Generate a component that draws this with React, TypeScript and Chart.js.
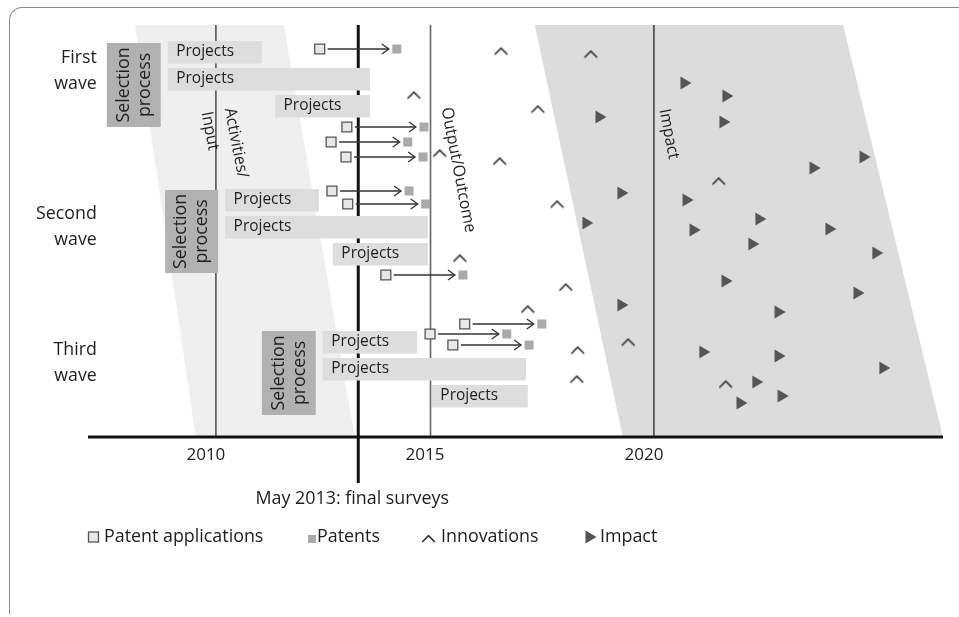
import { useEffect, useRef } from 'react';
import { Chart, registerables } from 'chart.js';

Chart.register(...registerables);

const FONT = "'Open Sans', 'Noto Sans', sans-serif";

// ---- axis ----
const xMin = 2007.08;
const xMax = 2026.6;
const rowMax = 41.2;
const tickYears = [2010, 2015, 2020];
const phaseLineYears = [2010, 2014.9, 2020];
const surveyYear = 2013.25;
const surveyLabel = 'May 2013: final surveys';

// ---- shaded phase bands (parallelograms) ----
const bandTopStart = [2008.15, 2017.28];
const bandBottomStart = [2009.54, 2019.29];
const bandTopEnd = [2011.55, 2024.32];
const bandBottomEnd = [2013.17, 2026.6];

// ---- phase labels ----
const phaseLabels = ['Input', 'Activities/', 'Output/Outcome', 'Impact'];
const phaseLabelYears = [2009.86, 2010.46, 2015.53, 2020.34];
const phaseLabelRows = [30.6, 29.4, 26.7, 30.3];

// ---- waves ----
const waveLines = [['First', 'wave'], ['Second', 'wave'], ['Third', 'wave']];
const waveRows = [36.6, 21.05, 7.45];
const waveLabelYear = 2007.28;

const selectionLines = ['Selection', 'process'];
const selectionStart = [2007.51, 2008.84, 2011.05];
const selectionEnd = [2008.74, 2010.05, 2012.28];
const selectionTop = [39.4, 24.7, 10.6];
const selectionBottom = [31.0, 16.4, 2.2];

// ---- projects ----
const projectLabel = 'Projects';
const projectStart = [2008.9, 2008.9, 2011.35, 2010.21, 2010.21, 2012.67, 2012.44, 2012.44, 2014.93];
const projectEnd = [2011.05, 2013.52, 2013.52, 2012.35, 2014.84, 2014.84, 2014.59, 2017.08, 2017.12];
const projectRow = [38.5, 35.8, 33.1, 23.7, 21.0, 18.3, 9.5, 6.8, 4.1];

// ---- patent applications -> patents ----
const appX = [2012.37, 2012.99, 2012.63, 2012.97, 2012.65, 2013.01, 2013.88, 2014.89, 2015.68, 2015.41];
const appY = [38.8, 31.0, 29.5, 28.0, 24.6, 23.3, 16.2, 10.3, 11.3, 9.2];
const patentX = [2014.13, 2014.75, 2014.38, 2014.73, 2014.41, 2014.79, 2015.64, 2016.64, 2017.44, 2017.15];
const patentY = [38.8, 31.0, 29.5, 28.0, 24.6, 23.3, 16.2, 10.3, 11.3, 9.2];

// ---- innovations ----
const innovX = [2016.51, 2018.56, 2014.52, 2017.35, 2015.11, 2016.48, 2021.48, 2017.79, 2015.57, 2017.99, 2017.12, 2019.41, 2018.26, 2018.24, 2021.64];
const innovY = [38.6, 38.3, 34.2, 32.8, 28.4, 27.6, 25.6, 23.3, 17.9, 15.0, 12.8, 9.5, 8.7, 5.8, 5.3];

// ---- impact ----
const impactX = [2020.73, 2021.69, 2018.79, 2021.62, 2024.82, 2023.68, 2019.29, 2020.78, 2022.44, 2018.49, 2024.04, 2020.94, 2022.28, 2025.11, 2021.67, 2024.68, 2019.29, 2022.88, 2021.16, 2022.88, 2025.27, 2022.37, 2022.95, 2022.01];
const impactY = [35.4, 34.1, 32.0, 31.5, 28.0, 26.9, 24.4, 23.7, 21.8, 21.4, 20.8, 20.7, 19.3, 18.4, 15.6, 14.4, 13.2, 12.5, 8.5, 8.1, 6.9, 5.5, 4.1, 3.4];

const legendLabels = ['Patent applications', 'Patents', 'Innovations', 'Impact'];

function makeCaret(): HTMLCanvasElement {
  const c = document.createElement('canvas');
  c.width = 15;
  c.height = 9;
  const g = c.getContext('2d')!;
  g.strokeStyle = '#333';
  g.lineWidth = 1.7;
  g.beginPath();
  g.moveTo(1.2, 8);
  g.lineTo(7.5, 1.6);
  g.lineTo(13.8, 8);
  g.stroke();
  return c;
}

function makeTriangle(): HTMLCanvasElement {
  const c = document.createElement('canvas');
  c.width = 12;
  c.height = 14;
  const g = c.getContext('2d')!;
  g.fillStyle = '#555555';
  g.beginPath();
  g.moveTo(0.5, 0.5);
  g.lineTo(11.5, 7);
  g.lineTo(0.5, 13.5);
  g.closePath();
  g.fill();
  return c;
}

function drawText(
  ctx: CanvasRenderingContext2D,
  str: string,
  x: number,
  y: number,
  size: number,
  align: CanvasTextAlign = 'left',
  rotate = 0,
  sx = 1,
  color = '#1e1e1e'
) {
  ctx.save();
  ctx.translate(x, y);
  if (rotate) ctx.rotate(rotate);
  if (sx !== 1) ctx.scale(sx, 1);
  ctx.font = `${size}px ${FONT}`;
  ctx.fillStyle = color;
  ctx.textAlign = align;
  ctx.textBaseline = 'middle';
  ctx.fillText(str, 0, 0);
  ctx.restore();
}

export default function App() {
  const ref = useRef<HTMLCanvasElement | null>(null);

  useEffect(() => {
    if (!ref.current) return;
    const caret = makeCaret();
    const tri = makeTriangle();

    const diagram = {
      id: 'diagram',
      beforeDatasetsDraw(chart: any) {
        const { ctx, scales } = chart;
        const X = (v: number) => scales.x.getPixelForValue(v);
        const Y = (v: number) => scales.y.getPixelForValue(v);
        const top = Y(rowMax);
        const bottom = Y(0);
        ctx.save();
        // bands
        const bandColors = ['#efefef', '#dcdcdc'];
        bandTopStart.forEach((_, i) => {
          ctx.fillStyle = bandColors[i];
          ctx.beginPath();
          ctx.moveTo(X(bandTopStart[i]), top);
          ctx.lineTo(X(bandTopEnd[i]), top);
          ctx.lineTo(X(bandBottomEnd[i]), bottom);
          ctx.lineTo(X(bandBottomStart[i]), bottom);
          ctx.closePath();
          ctx.fill();
        });
        // phase lines
        const lineColors = ['#555', '#666', '#444'];
        phaseLineYears.forEach((yr, i) => {
          ctx.strokeStyle = lineColors[i];
          ctx.lineWidth = 1.6;
          ctx.beginPath();
          ctx.moveTo(X(yr), top);
          ctx.lineTo(X(yr), bottom);
          ctx.stroke();
        });
        // survey line
        ctx.strokeStyle = '#111';
        ctx.lineWidth = 3;
        ctx.beginPath();
        ctx.moveTo(X(surveyYear), top);
        ctx.lineTo(X(surveyYear), bottom + 46);
        ctx.stroke();
        // phase labels
        phaseLabels.forEach((t, i) => {
          drawText(ctx, t, X(phaseLabelYears[i]), Y(phaseLabelRows[i]), 16.5, 'center', (79 * Math.PI) / 180, 0.96);
        });
        // project bars
        projectStart.forEach((s, i) => {
          const x0 = X(s);
          const x1 = X(projectEnd[i]);
          const yc = Y(projectRow[i]);
          ctx.fillStyle = '#dddddd';
          ctx.fillRect(x0, yc - 11, x1 - x0, 22.5);
          drawText(ctx, projectLabel, x0 + 8.5, yc - 0.5, 17, 'left', 0, 0.91);
        });
        // selection boxes
        selectionStart.forEach((s, i) => {
          const x0 = X(s);
          const x1 = X(selectionEnd[i]);
          const y0 = Y(selectionTop[i]);
          const y1 = Y(selectionBottom[i]);
          ctx.fillStyle = '#b1b1b1';
          ctx.fillRect(x0, y0, x1 - x0, y1 - y0);
          const cx = (x0 + x1) / 2;
          const cy = (y0 + y1) / 2;
          ctx.save();
          ctx.translate(cx, cy);
          ctx.rotate(-Math.PI / 2);
          drawText(ctx, selectionLines[0], 0, -10.5, 18.5, 'center', 0, 0.96);
          drawText(ctx, selectionLines[1], 0, 10.5, 18.5, 'center', 0, 0.96);
          ctx.restore();
        });
        // wave labels
        waveLines.forEach((lines, i) => {
          const yc = Y(waveRows[i]);
          drawText(ctx, lines[0], X(waveLabelYear), yc - 13, 18.5, 'right', 0, 0.96);
          drawText(ctx, lines[1], X(waveLabelYear), yc + 13, 18.5, 'right', 0, 0.96);
        });
        // arrows
        ctx.strokeStyle = '#333';
        ctx.lineWidth = 1.3;
        appX.forEach((ax, i) => {
          const x0 = X(ax) + 8;
          const x1 = X(patentX[i]) - 8;
          const yy = Y(appY[i]);
          ctx.beginPath();
          ctx.moveTo(x0, yy);
          ctx.lineTo(x1, yy);
          ctx.stroke();
          ctx.beginPath();
          ctx.moveTo(x1 - 7, yy - 5);
          ctx.lineTo(x1, yy);
          ctx.lineTo(x1 - 7, yy + 5);
          ctx.stroke();
        });
        ctx.restore();
      },
      afterDatasetsDraw(chart: any) {
        const { ctx, chartArea, scales } = chart;
        const bottom = scales.y.getPixelForValue(0);
        ctx.save();
        ctx.fillStyle = '#111';
        ctx.fillRect(chartArea.left, bottom - 1.5, chartArea.right - chartArea.left, 3);
        ctx.restore();
      },
      afterDraw(chart: any) {
        const { ctx, scales } = chart;
        const bottom = scales.y.getPixelForValue(0);
        ctx.save();
        drawText(ctx, surveyLabel, scales.x.getPixelForValue(surveyYear) - 6, bottom + 62, 19, 'center', 0, 0.94);
        // legend
        const ly = bottom + 100;
        const markX = [88, 308, 421, 585];
        const textX = [104, 317, 441, 600];
        ctx.fillStyle = '#e8e8e8';
        ctx.fillRect(88.5, ly - 5, 10, 10);
        ctx.strokeStyle = '#555';
        ctx.lineWidth = 1.3;
        ctx.strokeRect(88.5, ly - 5, 10, 10);
        ctx.fillStyle = '#aaaaaa';
        ctx.fillRect(markX[1], ly - 2, 8, 8);
        ctx.drawImage(caret, markX[2], ly - 3);
        ctx.drawImage(tri, markX[3], ly - 7);
        legendLabels.forEach((t, i) => drawText(ctx, t, textX[i], ly, 19, 'left', 0, 0.94));
        ctx.restore();
      },
    };

    const chart = new Chart(ref.current, {
      type: 'scatter',
      data: {
        datasets: [
          {
            label: legendLabels[3],
            data: impactX.map((x, i) => ({ x, y: impactY[i] })),
            pointStyle: tri as any,
            pointRadius: 7,
          },
          {
            label: legendLabels[2],
            data: innovX.map((x, i) => ({ x, y: innovY[i] })),
            pointStyle: caret as any,
            pointRadius: 7,
          },
          {
            label: legendLabels[0],
            data: appX.map((x, i) => ({ x, y: appY[i] })),
            pointStyle: 'rect',
            pointRadius: 7,
            backgroundColor: '#e8e8e8',
            borderColor: '#555',
            borderWidth: 1.3,
          },
          {
            label: legendLabels[1],
            data: patentX.map((x, i) => ({ x, y: patentY[i] })),
            pointStyle: 'rect',
            pointRadius: 6.4,
            backgroundColor: '#aaaaaa',
            borderColor: '#aaaaaa',
            borderWidth: 0,
          },
        ],
      },
      options: {
        responsive: false,
        animation: false,
        devicePixelRatio: 1,
        events: [],
        layout: { padding: { left: 88, right: 16, top: 25, bottom: 0 } },
        plugins: { legend: { display: false }, tooltip: { enabled: false } },
        scales: {
          x: {
            type: 'linear',
            min: xMin,
            max: xMax,
            grid: { display: false, drawTicks: false },
            border: { display: false },
            afterBuildTicks: (s: any) => {
              s.ticks = tickYears.map((v) => ({ value: v }));
            },
            afterFit: (s: any) => {
              s.height = 180;
            },
            ticks: {
              padding: 8,
              labelOffset: -10,
              color: '#222',
              autoSkip: false,
              maxRotation: 0,
              font: { family: FONT, size: 17 },
              callback: (v: any) => String(v),
            },
          },
          y: { type: 'linear', display: false, min: 0, max: rowMax },
        },
      },
      plugins: [diagram],
    });
    return () => chart.destroy();
  }, []);

  return (
    <div style={{ position: 'absolute', left: 0, top: 0, width: 959, height: 617, background: '#fff', overflow: 'hidden' }}>
      <div
        style={{
          position: 'absolute',
          left: 9,
          top: 7,
          width: 1000,
          height: 606,
          borderTop: '1.5px solid #8a8a8a',
          borderLeft: '1.5px solid #8a8a8a',
          borderTopLeftRadius: 13,
        }}
      />
      <canvas ref={ref} width={959} height={617} style={{ position: 'absolute', left: 0, top: 0 }} />
    </div>
  );
}
